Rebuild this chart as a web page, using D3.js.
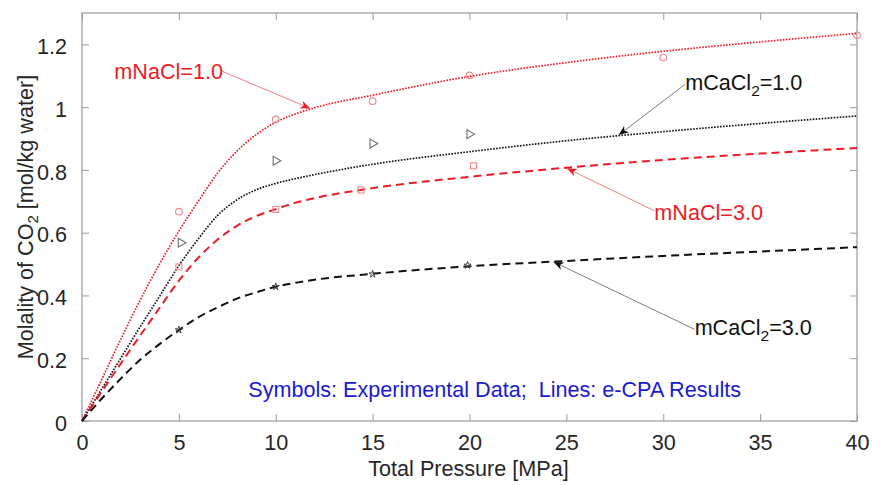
<!DOCTYPE html>
<html>
<head>
<meta charset="utf-8">
<script src="https://cdn.jsdelivr.net/npm/d3@7"></script>
<style>
  html, body { margin: 0; padding: 0; background: #fff; }
  svg { display: block; }
  text { font-family: "Liberation Sans", Arial, Helvetica, sans-serif; }
</style>
</head>
<body>
<svg id="chart" width="872" height="485"></svg>
<script>
// ---------------- data ----------------
const pressureGrid = [0, 1, 2, 3, 4, 5, 6, 7, 8, 9, 10, 11, 12, 15, 20, 25, 30, 35, 40];
const modelNaCl1 = [0, 0.13, 0.26, 0.385, 0.50, 0.605, 0.70, 0.79, 0.86, 0.913, 0.952, 0.978, 0.998, 1.038, 1.098, 1.142, 1.178, 1.208, 1.235];
const modelCaCl1 = [0, 0.10, 0.20, 0.30, 0.397, 0.495, 0.58, 0.655, 0.705, 0.737, 0.757, 0.772, 0.785, 0.818, 0.858, 0.893, 0.922, 0.948, 0.972];
const modelNaCl3 = [0, 0.092, 0.183, 0.272, 0.36, 0.447, 0.52, 0.578, 0.622, 0.653, 0.675, 0.695, 0.71, 0.742, 0.778, 0.807, 0.832, 0.852, 0.870];
const modelCaCl3 = [0, 0.07, 0.135, 0.195, 0.245, 0.29, 0.33, 0.362, 0.39, 0.41, 0.428, 0.44, 0.45, 0.469, 0.493, 0.51, 0.526, 0.54, 0.554];

const expNaCl1P = [5, 10, 15, 20, 30, 40];
const expNaCl1 = [0.667, 0.961, 1.019, 1.101, 1.158, 1.229];
const expCaCl1P = [5.1, 10, 15, 20];
const expCaCl1 = [0.568, 0.829, 0.884, 0.914];
const expNaCl3P = [5, 10, 14.4, 20.2];
const expNaCl3 = [0.491, 0.674, 0.736, 0.813];
const expCaCl3P = [5, 10, 15, 19.9];
const expCaCl3 = [0.29, 0.428, 0.468, 0.496];

const xTicks = [0, 5, 10, 15, 20, 25, 30, 35, 40];
const yTicks = [0, 0.2, 0.4, 0.6, 0.8, 1.0, 1.2];

// annotations in data coordinates: text anchor, arrow tail, arrow tip
const annotationLabels = ["mNaCl=1.0", "mCaCl2=1.0", "mNaCl=3.0", "mCaCl2=3.0"];
const annotationText = [[1.67, 1.089], [31.13, 1.054], [29.54, 0.642], [31.62, 0.274]];
const annotationTail = [[7.17, 1.116], [31.13, 1.073], [29.54, 0.670], [31.62, 0.292]];
const annotationTip = [[11.78, 0.996], [27.7, 0.911], [25.03, 0.805], [24.34, 0.507]];

// ---------------- layout ----------------
const svg = d3.select("#chart");
const m = { left: 82, right: 15, top: 13, bottom: 64 };
const W = 872, H = 485;
const x = d3.scaleLinear().domain([0, 40]).range([m.left, W - m.right]);
const y = d3.scaleLinear().domain([0, 1.3]).range([H - m.bottom, m.top]);

const axisColor = "#9a9a9a";
const labelColor = "#262626";
const red = "#ec1c24";
const fontSize = 21.6;

// box
svg.append("rect")
  .attr("x", x(0)).attr("y", y(1.3))
  .attr("width", x(40) - x(0)).attr("height", y(0) - y(1.3))
  .attr("fill", "none").attr("stroke", axisColor).attr("stroke-width", 1.2);

// axes (ticks inward)
const tickLen = 7;
const xAxisB = d3.axisBottom(x).tickValues(xTicks).tickSize(-tickLen).tickPadding(14).tickFormat(d3.format("d"));
const xAxisT = d3.axisTop(x).tickValues(xTicks).tickSize(-tickLen).tickFormat("");
const yAxisL = d3.axisLeft(y).tickValues(yTicks).tickSize(-tickLen).tickPadding(15).tickFormat(d => d3.format("~g")(d));
const yAxisR = d3.axisRight(y).tickValues(yTicks).tickSize(-tickLen).tickFormat("");

function styleAxis(g) {
  g.select(".domain").remove();
  g.selectAll(".tick line").attr("stroke", axisColor).attr("stroke-width", 1);
  g.selectAll(".tick text").attr("fill", labelColor).attr("font-size", fontSize)
    .attr("font-family", '"Liberation Sans", Arial, sans-serif');
}
svg.append("g").attr("transform", `translate(0,${y(0)})`).call(xAxisB).call(styleAxis)
  .selectAll(".tick text").attr("dy", "0.68em");
svg.append("g").attr("transform", `translate(0,${y(1.3)})`).call(xAxisT).call(styleAxis);
svg.append("g").attr("transform", `translate(${x(0)},0)`).call(yAxisL).call(styleAxis)
  .selectAll(".tick text").attr("dy", "0.42em");
svg.append("g").attr("transform", `translate(${x(40)},0)`).call(yAxisR).call(styleAxis);

// axis labels
svg.append("text")
  .attr("x", (x(0) + x(40)) / 2 - 1).attr("y", 476)
  .attr("text-anchor", "middle").attr("font-size", fontSize).attr("fill", labelColor)
  .text("Total Pressure [MPa]");

const yl = svg.append("text")
  .attr("transform", `translate(33,${217}) rotate(-90)`)
  .attr("text-anchor", "middle").attr("font-size", fontSize).attr("fill", labelColor);
yl.append("tspan").text("Molality of CO");
yl.append("tspan").attr("font-size", 15).attr("dy", 5).text("2");
yl.append("tspan").attr("dy", -5).text(" [mol/kg water]");

// model lines
const line = d3.line().x(d => x(d[0])).y(d => y(d[1])).curve(d3.curveMonotoneX);
const series = [
  { v: modelNaCl1, color: red, dash: "1.6,1.4", w: 1.7 },
  { v: modelCaCl1, color: "#111", dash: "1.6,1.4", w: 1.7 },
  { v: modelNaCl3, color: red, dash: "8,5", w: 2 },
  { v: modelCaCl3, color: "#111", dash: "8,5", w: 2 }
];
series.forEach(s => {
  svg.append("path")
    .datum(pressureGrid.map((p, i) => [p, s.v[i]]))
    .attr("d", line)
    .attr("fill", "none").attr("stroke", s.color)
    .attr("stroke-width", s.w).attr("stroke-dasharray", s.dash);
});

// experimental symbols
const pink = "#ee8a8a";
svg.append("g").selectAll("circle")
  .data(expNaCl1P.map((p, i) => [p, expNaCl1[i]]))
  .join("circle")
  .attr("cx", d => x(d[0])).attr("cy", d => y(d[1])).attr("r", 3.3)
  .attr("fill", "none").attr("stroke", pink).attr("stroke-width", 1.1);

const tri = d3.symbol().type(d3.symbolTriangle).size(34);
svg.append("g").selectAll("path")
  .data(expCaCl1P.map((p, i) => [p, expCaCl1[i]]))
  .join("path")
  .attr("d", tri)
  .attr("transform", d => `translate(${x(d[0])},${y(d[1])}) rotate(90)`)
  .attr("fill", "none").attr("stroke", "#6e6e6e").attr("stroke-width", 1.1);

svg.append("g").selectAll("rect")
  .data(expNaCl3P.map((p, i) => [p, expNaCl3[i]]))
  .join("rect")
  .attr("x", d => x(d[0]) - 3).attr("y", d => y(d[1]) - 3)
  .attr("width", 6).attr("height", 6)
  .attr("fill", "none").attr("stroke", pink).attr("stroke-width", 1.1);

const star = d3.symbol().type(d3.symbolStar).size(16);
svg.append("g").selectAll("path")
  .data(expCaCl3P.map((p, i) => [p, expCaCl3[i]]))
  .join("path")
  .attr("d", star)
  .attr("transform", d => `translate(${x(d[0])},${y(d[1])})`)
  .attr("fill", "none").attr("stroke", "#444").attr("stroke-width", 1);

// annotations
const annColors = [
  { text: red, line: "#f08080", head: red },
  { text: "#111", line: "#808080", head: "#111" },
  { text: red, line: "#f08080", head: red },
  { text: "#111", line: "#808080", head: "#111" }
];
annotationLabels.forEach((lab, i) => {
  const c = annColors[i];
  const [tx, ty] = [x(annotationTail[i][0]), y(annotationTail[i][1])];
  const [hx, hy] = [x(annotationTip[i][0]), y(annotationTip[i][1])];
  svg.append("line").attr("x1", tx).attr("y1", ty).attr("x2", hx).attr("y2", hy)
    .attr("stroke", c.line).attr("stroke-width", 1);
  // arrowhead (barbed)
  const ang = Math.atan2(hy - ty, hx - tx);
  const L = 10, Wd = 4, notch = 7;
  const ux = Math.cos(ang), uy = Math.sin(ang);
  const px = -uy, py = ux;
  const bx = hx - ux * L, by = hy - uy * L;
  const nx = hx - ux * notch, ny = hy - uy * notch;
  svg.append("path")
    .attr("d", `M${hx},${hy} L${bx + px * Wd},${by + py * Wd} L${nx},${ny} L${bx - px * Wd},${by - py * Wd} Z`)
    .attr("fill", c.head);

  const t = svg.append("text")
    .attr("x", x(annotationText[i][0])).attr("y", y(annotationText[i][1]))
    .attr("font-size", fontSize).attr("fill", c.text);
  const m2 = lab.match(/^(mCaCl)2(=.*)$/);
  if (m2) {
    t.append("tspan").text(m2[1]);
    t.append("tspan").attr("font-size", 15.5).attr("dy", 6).text("2");
    t.append("tspan").attr("dy", -6).text(m2[2]);
  } else {
    t.text(lab);
  }
});

svg.append("text")
  .attr("x", x(8.58)).attr("y", 396.5)
  .attr("font-size", fontSize).attr("fill", "#1a1ad0")
  .attr("xml:space", "preserve").style("white-space", "pre")
  .text("Symbols: Experimental Data;  Lines: e-CPA Results");
</script>
</body>
</html>
